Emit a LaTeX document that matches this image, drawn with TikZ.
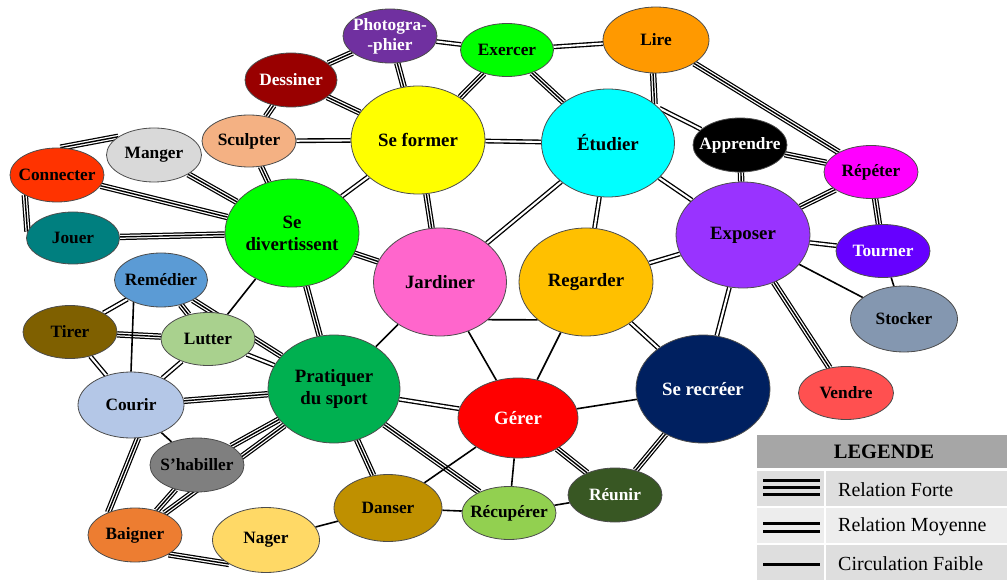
\documentclass[tikz,border=0pt]{standalone}
\usepackage{fontspec}
\setmainfont{Liberation Serif}
\usetikzlibrary{shapes.geometric}
\pgfdeclarelayer{background}
\pgfsetlayers{background,main}
\definecolor{cPhoto}{HTML}{7030A0}
\definecolor{cExer}{HTML}{00FF00}
\definecolor{cLire}{HTML}{FF9900}
\definecolor{cDess}{HTML}{990000}
\definecolor{cScul}{HTML}{F4B183}
\definecolor{cForm}{HTML}{FFFF00}
\definecolor{cEtud}{HTML}{00FFFF}
\definecolor{cAppr}{HTML}{000000}
\definecolor{cRepe}{HTML}{FF00FF}
\definecolor{cMang}{HTML}{D9D9D9}
\definecolor{cConn}{HTML}{FF3300}
\definecolor{cDive}{HTML}{00FF00}
\definecolor{cJoue}{HTML}{007F7F}
\definecolor{cJard}{HTML}{FF66CC}
\definecolor{cRega}{HTML}{FFC000}
\definecolor{cExpo}{HTML}{9933FF}
\definecolor{cTour}{HTML}{6600FF}
\definecolor{cStoc}{HTML}{8497B0}
\definecolor{cReme}{HTML}{5B9BD5}
\definecolor{cTire}{HTML}{7F6000}
\definecolor{cLutt}{HTML}{A9D18E}
\definecolor{cCour}{HTML}{B4C7E7}
\definecolor{cPrat}{HTML}{00B050}
\definecolor{cGere}{HTML}{FF0000}
\definecolor{cRecr}{HTML}{002060}
\definecolor{cVend}{HTML}{FF5050}
\definecolor{cHabi}{HTML}{7F7F7F}
\definecolor{cDans}{HTML}{BF9000}
\definecolor{cRecu}{HTML}{92D050}
\definecolor{cReun}{HTML}{385723}
\definecolor{cBaig}{HTML}{ED7D31}
\definecolor{cNage}{HTML}{FFD966}
\definecolor{cHead}{HTML}{A6A6A6}
\definecolor{cRowA}{HTML}{DEDEDE}
\definecolor{cRowB}{HTML}{EDEDED}
\begin{document}
\begin{tikzpicture}[x=1pt,y=-1pt,
  el/.style n args={2}{ellipse, draw=black!70, line width=0.8pt,
    inner xsep=-20pt, inner ysep=-10pt,
    minimum width=#1pt, minimum height=#2pt, align=center,
    font=\bfseries\fontsize{17.3}{20}\selectfont},
  big/.style={font=\bfseries\fontsize{18.8}{22}\selectfont},
  wt/.style={text=white},
  forte/.style={draw=black, line width=6.4pt,
    postaction={draw=white, line width=3.9pt},
    postaction={draw=black, line width=1.4pt}},
  moyenne/.style={draw=black, line width=4.8pt,
    postaction={draw=white, line width=2.1pt}},
  faible/.style={draw=black, line width=1.6pt},
  legtext/.style={anchor=west, font=\fontsize{20}{22}\selectfont, inner sep=0pt},
  legline/.style={draw=black, line width=3pt}
]
\useasboundingbox (0,0) rectangle (1007,580);

% ---------- nodes ----------
\node[el={94}{54}, fill=cPhoto, wt] (photo) at (390,36) {Photogra-\\-phier};
\node[el={93}{53}, fill=cExer] (exercer) at (507,50) {Exercer};
\node[el={106}{66}, fill=cLire] (lire) at (656,40) {Lire};
\node[el={92}{54}, fill=cDess, wt] (dessiner) at (291,80) {Dessiner};
\node[el={94}{52}, fill=cScul] (sculpter) at (249,141) {Sculpter};
\node[el={134}{108}, fill=cForm, big] (seformer) at (418,140) {Se former};
\node[el={133}{108}, fill=cEtud, big] (etudier) at (608,143) {Étudier};
\node[el={94}{54}, fill=cAppr, wt] (apprendre) at (740,145) {Apprendre};
\node[el={94}{53}, fill=cRepe] (repeter) at (871,172) {Répéter};
\node[el={95}{54}, fill=cMang] (manger) at (154,155) {Manger};
\node[el={94}{54}, fill=cConn] (connecter) at (57,175) {Connecter};
\node[el={134}{108}, fill=cDive, big] (sediv) at (292,233) {Se\\divertissent};
\node[el={93}{52}, fill=cJoue] (jouer) at (73,238) {Jouer};
\node[el={133}{108}, fill=cJard, big] (jardiner) at (440,282) {Jardiner};
\node[el={134}{108}, fill=cRega, big] (regarder) at (586,282) {Regarder};
\node[el={134}{106}, fill=cExpo, big] (exposer) at (743,235) {Exposer};
\node[el={94}{53}, fill=cTour, wt] (tourner) at (883,251) {Tourner};
\node[el={107}{66}, fill=cStoc] (stocker) at (904,319) {Stocker};
\node[el={93}{54}, fill=cReme] (remedier) at (161,280) {Remédier};
\node[el={94}{53}, fill=cTire] (tirer) at (70,332) {Tirer};
\node[el={94}{53}, fill=cLutt] (lutter) at (208,339) {Lutter};
\node[el={106}{66}, fill=cCour] (courir) at (131,405) {Courir};
\node[el={132}{108}, fill=cPrat, big] (pratiquer) at (334,389) {Pratiquer\\du sport};
\node[el={120}{80}, fill=cGere, wt, big] (gerer) at (518,418) {Gérer};
\node[el={134}{108}, fill=cRecr, wt, big] (serecreer) at (703,389) {Se recréer};
\node[el={95}{53}, fill=cVend] (vendre) at (846,393) {Vendre};
\node[el={94}{54}, fill=cHabi] (shabiller) at (197,465) {S’habiller};
\node[el={108}{67}, fill=cDans] (danser) at (388,508) {Danser};
\node[el={94}{53}, fill=cRecu] (recuperer) at (509,513) {Récupérer};
\node[el={94}{54}, fill=cReun, wt] (reunir) at (615,495) {Réunir};
\node[el={94}{54}, fill=cBaig] (baigner) at (135,535) {Baigner};
\node[el={107}{65}, fill=cNage] (nager) at (266,540) {Nager};

% ---------- connectors ----------
\begin{pgfonlayer}{background}
% strong
\draw[forte] (dessiner) -- (photo);
\draw[forte] (dessiner) -- (seformer);
\draw[forte] (dessiner) -- (sculpter);
\draw[forte] (photo) -- (seformer);
\draw[forte] (exercer) -- (seformer);
\draw[forte] (exercer) -- (etudier);
\draw[forte] (lire.265) -- (etudier.40);
\draw[forte] (lire) -- (repeter);
\draw[forte] (sculpter) -- (sediv);
\draw[forte] (connecter.83) -- (manger.153);
\draw[forte] (manger) -- (sediv);
\draw[forte] (connecter) -- (sediv);
\draw[forte] (connecter.212) -- (jouer.172);
\draw[forte] (jouer) -- (sediv);
\draw[forte] (seformer) -- (jardiner);
\draw[forte] (apprendre) -- (repeter);
\draw[forte] (apprendre) -- (exposer);
\draw[forte] (repeter) -- (exposer);
\draw[forte] (repeter) -- (tourner);
\draw[forte] (exposer) -- (vendre);
\draw[forte] (sediv) -- (jardiner);
\draw[forte] (sediv) -- (pratiquer);
\draw[forte] (remedier) -- (lutter);
\draw[forte] (remedier) -- (pratiquer);
\draw[forte] (tirer) -- (lutter);
\draw[forte] (courir) -- (pratiquer);
\draw[forte] (courir.-78) -- (baigner.140);
\draw[forte] (shabiller) -- (pratiquer);
\draw[forte] (shabiller) -- (baigner);
\draw[forte] (baigner) -- (pratiquer);
\draw[forte] (baigner.-30) -- (nager.213);
\draw[forte] (pratiquer) -- (danser);
\draw[forte] (pratiquer) -- (recuperer);
\draw[forte] (gerer) -- (reunir);
\draw[forte] (reunir) -- (serecreer);
% medium
\draw[moyenne] (photo) -- (exercer);
\draw[moyenne] (exercer) -- (lire);
\draw[moyenne] (sculpter) -- (seformer);
\draw[moyenne] (seformer) -- (etudier);
\draw[moyenne] (seformer) -- (sediv);
\draw[moyenne] (etudier) -- (jardiner);
\draw[moyenne] (etudier) -- (regarder);
\draw[moyenne] (etudier.34) -- (apprendre.158);
\draw[moyenne] (etudier) -- (exposer);
\draw[moyenne] (exposer) -- (tourner);
\draw[moyenne] (exposer) -- (serecreer);
\draw[moyenne] (exposer) -- (regarder);
\draw[moyenne] (regarder) -- (serecreer);
\draw[moyenne] (remedier) -- (tirer);
\draw[moyenne] (tirer) -- (courir);
\draw[moyenne] (lutter) -- (courir);
\draw[moyenne] (lutter) -- (pratiquer);
\draw[moyenne] (pratiquer) -- (gerer);
% weak
\draw[faible] (exposer) -- (stocker);
\draw[faible] (tourner) -- (stocker);
\draw[faible] (jardiner.-38) -- (regarder.218);
\draw[faible] (regarder) -- (gerer);
\draw[faible] (sediv) -- (lutter);
\draw[faible] (remedier.219) -- (courir.90);
\draw[faible] (courir) -- (shabiller);
\draw[faible] (nager) -- (danser);
\draw[faible] (pratiquer) -- (jardiner);
\draw[faible] (jardiner) -- (gerer);
\draw[faible] (gerer) -- (danser);
\draw[faible] (gerer) -- (recuperer);
\draw[faible] (gerer) -- (serecreer);
\draw[faible] (danser) -- (recuperer);
\draw[faible] (recuperer) -- (reunir);
\end{pgfonlayer}

% ---------- legend ----------
\fill[cHead] (757,435) rectangle (1007,468);
\node[font=\bfseries\fontsize{20.5}{22}\selectfont] (legtitle) at (884,452) {LEGENDE};
\fill[cRowA] (757,471) rectangle (824,506);
\fill[cRowA] (826,471) rectangle (1007,506);
\fill[cRowB] (757,508) rectangle (824,543);
\fill[cRowB] (826,508) rectangle (1007,543);
\fill[cRowA] (757,545) rectangle (824,580);
\fill[cRowA] (826,545) rectangle (1007,580);
\draw[legline] (763,480) -- (820,480);
\draw[legline] (763,487) -- (820,487);
\draw[legline] (763,494) -- (820,494);
\draw[legline] (763,523) -- (820,523);
\draw[legline] (763,531) -- (820,531);
\draw[legline] (763,564) -- (820,564);
\node[legtext] (lf) at (838,490) {Relation Forte};
\node[legtext] (lm) at (838,527) {Relation Moyenne};
\node[legtext] (lc) at (838,564) {Circulation Faible};
\end{tikzpicture}
\end{document}
